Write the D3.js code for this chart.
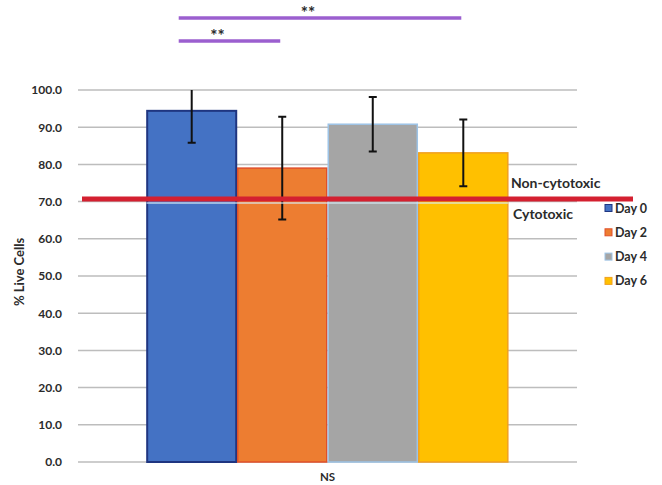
<!DOCTYPE html>
<html>
<head>
<meta charset="utf-8">
<script src="https://cdn.jsdelivr.net/npm/d3@7"></script>
<style>
  body { margin: 0; background: #fff; }
  text { font-family: Lato, "Open Sans", sans-serif; font-weight: bold; fill: #2b2b2b; }
</style>
</head>
<body>
<div id="chart"></div>
<script>
const categories = ["NS"];
const series = ["Day 0", "Day 2", "Day 4", "Day 6"];
const means = [94.4, 79.0, 90.8, 83.1];
const errors = [8.6, 13.8, 7.3, 9.0];
const yTicks = [0, 10, 20, 30, 40, 50, 60, 70, 80, 90, 100];
const threshold = 70.7;
const sigPairs = [
    { from: "Day 0", to: "Day 6", label: "**", level: 0 },
    { from: "Day 0", to: "Day 2", label: "**", level: 1 }
];

const fills = ["#4472c4", "#ed7d31", "#a5a5a5", "#ffc000"];
const borders = ["#1f3580", "#e0502a", "#9dc3e6", "#f0a020"];

const width = 662, height = 485;
const plot = { left: 78, right: 577, top: 90, bottom: 462 };

const svg = d3.select("#chart").append("svg")
    .attr("width", width)
    .attr("height", height);

const y = d3.scaleLinear().domain([0, 100]).range([plot.bottom, plot.top]);
const x0 = d3.scaleBand().domain(categories).range([plot.left, plot.right])
    .paddingInner(0).paddingOuter(0.189);
const x1 = d3.scaleBand().domain(series).range([0, x0.bandwidth()]).padding(0);

// Gridlines
svg.append("g")
    .selectAll("line")
    .data(yTicks)
    .enter().append("line")
    .attr("x1", plot.left).attr("x2", plot.right)
    .attr("y1", d => y(d)).attr("y2", d => y(d))
    .attr("stroke", "#bdbdbd")
    .attr("stroke-width", 1.5);

// Y axis labels
const yAxis = svg.append("g")
    .attr("transform", `translate(${plot.left - 13}, 0)`)
    .call(d3.axisLeft(y).tickValues(yTicks).tickFormat(d3.format(".1f")).tickSize(0));
yAxis.select(".domain").remove();
yAxis.selectAll("text")
    .style("font-size", "12px")
    .style("font-family", "Lato, 'Open Sans', sans-serif")
    .style("font-weight", "bold")
    .attr("fill", "#2b2b2b");

svg.append("text")
    .attr("transform", `translate(24, 272) rotate(-90)`)
    .attr("text-anchor", "middle")
    .style("font-size", "13px")
    .text("% Live Cells");

// Bars
const group = svg.append("g")
    .attr("transform", `translate(${x0("NS")}, 0)`);

group.selectAll("rect")
    .data(series)
    .enter().append("rect")
    .attr("x", d => x1(d) + 0.75)
    .attr("y", (d, i) => y(means[i]))
    .attr("width", x1.bandwidth() - 1.5)
    .attr("height", (d, i) => y(0) - y(means[i]))
    .attr("fill", (d, i) => fills[i])
    .attr("stroke", (d, i) => borders[i])
    .attr("stroke-width", (d, i) => i === 0 ? 2 : 1.5);

// Threshold line
svg.append("line")
    .attr("x1", x0("NS")).attr("x2", x0("NS") + x0.bandwidth())
    .attr("y1", y(threshold) + 4).attr("y2", y(threshold) + 4)
    .attr("stroke", "#d6ecf7")
    .attr("stroke-width", 1.5)
    .attr("opacity", 0.8);
svg.append("line")
    .attr("x1", 82).attr("x2", 633)
    .attr("y1", y(threshold)).attr("y2", y(threshold))
    .attr("stroke", "#d42030")
    .attr("stroke-width", 5);

// Error bars (clipped to plot area)
svg.append("clipPath").attr("id", "plotClip")
    .append("rect")
    .attr("x", 0).attr("y", plot.top)
    .attr("width", width).attr("height", plot.bottom - plot.top);

const errG = group.append("g").attr("clip-path", "url(#plotClip)");
series.forEach((s, i) => {
    const cx = x1(s) + x1.bandwidth() / 2;
    const hi = y(means[i] + errors[i]);
    const lo = y(means[i] - errors[i]);
    errG.append("line")
        .attr("x1", cx).attr("x2", cx)
        .attr("y1", hi).attr("y2", lo)
        .attr("stroke", "#111").attr("stroke-width", 2);
    [hi, lo].forEach(v => {
        errG.append("line")
            .attr("x1", cx - 4).attr("x2", cx + 4)
            .attr("y1", v).attr("y2", v)
            .attr("stroke", "#111").attr("stroke-width", 2);
    });
});

// Threshold labels
svg.append("text")
    .attr("x", 511).attr("y", 188)
    .style("font-size", "14px")
    .text("Non-cytotoxic");
svg.append("text")
    .attr("x", 513).attr("y", 219)
    .style("font-size", "14px")
    .text("Cytotoxic");

// X category label
svg.append("text")
    .attr("x", x0("NS") + x0.bandwidth() / 2)
    .attr("y", 481)
    .attr("text-anchor", "middle")
    .style("font-size", "11.5px")
    .text("NS");

// Legend
const legend = svg.append("g").attr("transform", "translate(605, 208)");
series.forEach((s, i) => {
    const row = legend.append("g").attr("transform", `translate(0, ${i * 24.3})`);
    row.append("rect")
        .attr("x", 0).attr("y", -3.5)
        .attr("width", 7).attr("height", 7)
        .attr("fill", fills[i])
        .attr("stroke", borders[i])
        .attr("stroke-width", 1);
    row.append("text")
        .attr("x", 10).attr("y", 4.5)
        .style("font-size", "12.5px")
        .text(s);
});

// Significance brackets
const sigY = [18, 41];
sigPairs.forEach(p => {
    const xa = x0("NS") + x1(p.from) + x1.bandwidth() / 2 - 13;
    const xb = x0("NS") + x1(p.to) + x1.bandwidth() / 2 - 2;
    const yy = sigY[p.level];
    svg.append("line")
        .attr("x1", xa).attr("x2", xb)
        .attr("y1", yy).attr("y2", yy)
        .attr("stroke", "#9b5fcf")
        .attr("stroke-width", 3.5);
    svg.append("text")
        .attr("x", (xa + xb) / 2 - 12)
        .attr("y", yy + 1)
        .attr("text-anchor", "middle")
        .style("font-size", "17px")
        .attr("fill", "#222")
        .text(p.label);
});
</script>
</body>
</html>
